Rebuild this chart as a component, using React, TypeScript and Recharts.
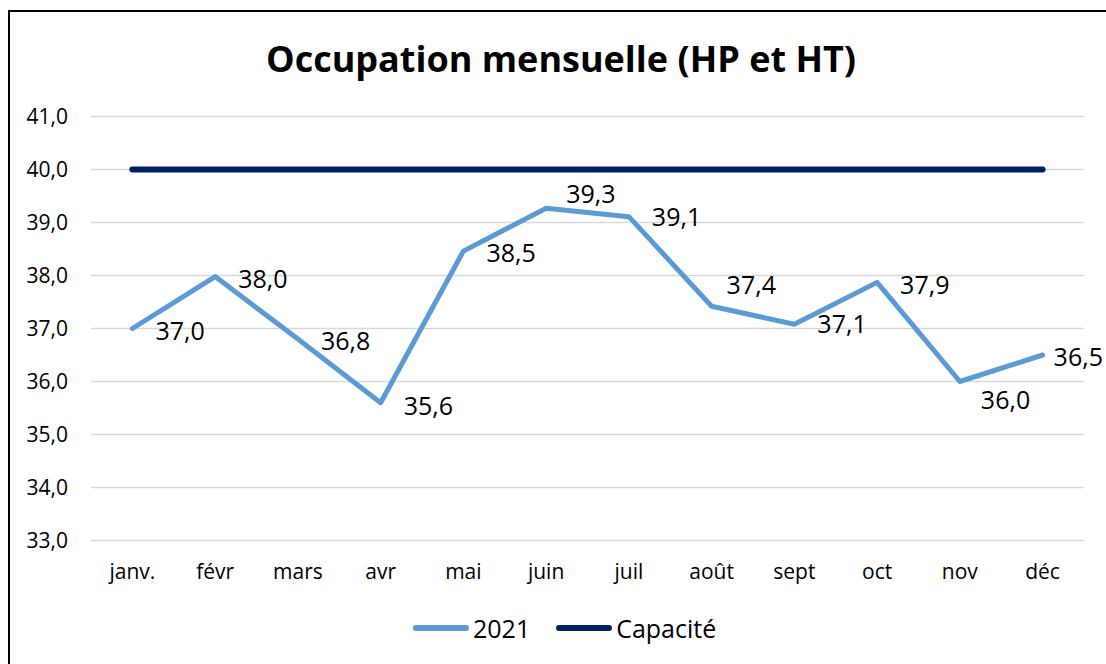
import React from "react";
import { LineChart, Line, XAxis, YAxis, CartesianGrid, Legend, LabelList } from "recharts";

const months = ["janv.", "févr", "mars", "avr", "mai", "juin", "juil", "août", "sept", "oct", "nov", "déc"];
const occupation2021 = [37.0, 37.98, 36.8, 35.6, 38.46, 39.27, 39.11, 37.42, 37.08, 37.87, 36.0, 36.5];
const capacite = [40, 40, 40, 40, 40, 40, 40, 40, 40, 40, 40, 40];
const yTicks = [33, 34, 35, 36, 37, 38, 39, 40, 41];

const SERIES_2021 = "2021";
const SERIES_CAP = "Capacité";

const data = months.map((m, i) => ({
  month: m,
  [SERIES_2021]: occupation2021[i],
  [SERIES_CAP]: capacite[i],
}));

// label placement offsets (dx, dy) relative to each point
const labelOffsets: [number, number][] = [
  [23, 2.5], [23, 2.3], [23, 2.2], [23, 3], [23, 2.3], [20, -13.8],
  [23, 0.8], [15, -21.3], [23, 0.3], [23, 2.7], [21, 19], [11, 2.3],
];

const FONT = "'Open Sans', sans-serif";
const fmt = (v: number) => v.toFixed(1).replace(".", ",");

const DataLabel = (props: any) => {
  const { x, y, value, index } = props;
  const [dx, dy] = labelOffsets[index] || [23, 2];
  const fs = 25;
  return (
    <text x={x + dx} y={y + dy + 0.357 * fs} fontSize={fs} fill="#000" textAnchor="start" fontFamily={FONT}>
      {fmt(value)}
    </text>
  );
};

const LegendContent = (props: any) => {
  const payload = props.payload || [];
  return (
    <div style={{ display: "flex", alignItems: "center", height: 40, paddingLeft: 405, fontFamily: FONT }}>
      {payload.map((p: any, i: number) => (
        <div key={i} style={{ display: "flex", alignItems: "center", marginRight: i === 0 ? 26 : 0 }}>
          <svg width={56} height={10} style={{ display: "block" }}>
            <line x1={3} y1={5} x2={53} y2={5} stroke={p.color} strokeWidth={6} strokeLinecap="round" />
          </svg>
          <span style={{ fontSize: 25, color: "#000", marginLeft: 4, lineHeight: "34px" }}>{p.value}</span>
        </div>
      ))}
    </div>
  );
};

export default function App() {
  return (
    <div
      style={{
        position: "fixed",
        left: 0,
        top: 0,
        width: 1106,
        height: 664,
        overflow: "hidden",
        fontFamily: FONT,
        background: "#fff",
      }}
    >
      <div
        style={{
          position: "absolute",
          left: 8,
          top: 10,
          width: 1100,
          height: 660,
          borderTop: "2px solid #000",
          borderLeft: "2px solid #000",
          pointerEvents: "none",
        }}
      />
      <div
        style={{
          position: "absolute",
          left: 8,
          top: 40.5,
          width: 1090,
          paddingLeft: 8,
          textAlign: "center",
          fontSize: 36,
          lineHeight: "36px",
          fontWeight: 700,
          color: "#000",
          whiteSpace: "nowrap",
        }}
      >
        Occupation mensuelle (HP et HT)
      </div>
      <div style={{ position: "absolute", left: 8, top: 8 }}>
        <LineChart
          width={1098}
          height={648}
          data={data}
          margin={{ top: 108.5, right: 22, bottom: 25.5, left: 0 }}
          style={{ fontFamily: FONT, overflow: "visible" }}
        >
          <CartesianGrid vertical={false} stroke="#D9D9D9" strokeWidth={1.3} />
          <XAxis
            dataKey="month"
            axisLine={false}
            tickLine={false}
            tickSize={0}
            tickMargin={23.5}
            height={50}
            padding={{ left: 41.4, right: 41.4 }}
            tick={{ fill: "#000", fontSize: 21, fontFamily: FONT }}
            interval={0}
          />
          <YAxis
            domain={[33, 41]}
            ticks={yTicks}
            axisLine={false}
            tickLine={false}
            tickSize={0}
            tickMargin={23}
            width={83}
            tickFormatter={fmt}
            tick={{ fill: "#000", fontSize: 21, fontFamily: FONT }}
            interval={0}
          />
          <Legend
            verticalAlign="bottom"
            height={40}
            content={<LegendContent />}
            wrapperStyle={{ top: 600, bottom: "auto", left: 0, width: 1098, height: 40 }}
          />
          <Line
            type="linear"
            dataKey={SERIES_2021}
            stroke="#5B9BD5"
            strokeWidth={5}
            strokeLinejoin="round"
            strokeLinecap="round"
            dot={false}
            activeDot={false}
            isAnimationActive={false}
          >
            <LabelList dataKey={SERIES_2021} content={<DataLabel />} />
          </Line>
          <Line
            type="linear"
            dataKey={SERIES_CAP}
            stroke="#002060"
            strokeWidth={6}
            strokeLinecap="round"
            dot={false}
            activeDot={false}
            isAnimationActive={false}
          />
        </LineChart>
      </div>
    </div>
  );
}
